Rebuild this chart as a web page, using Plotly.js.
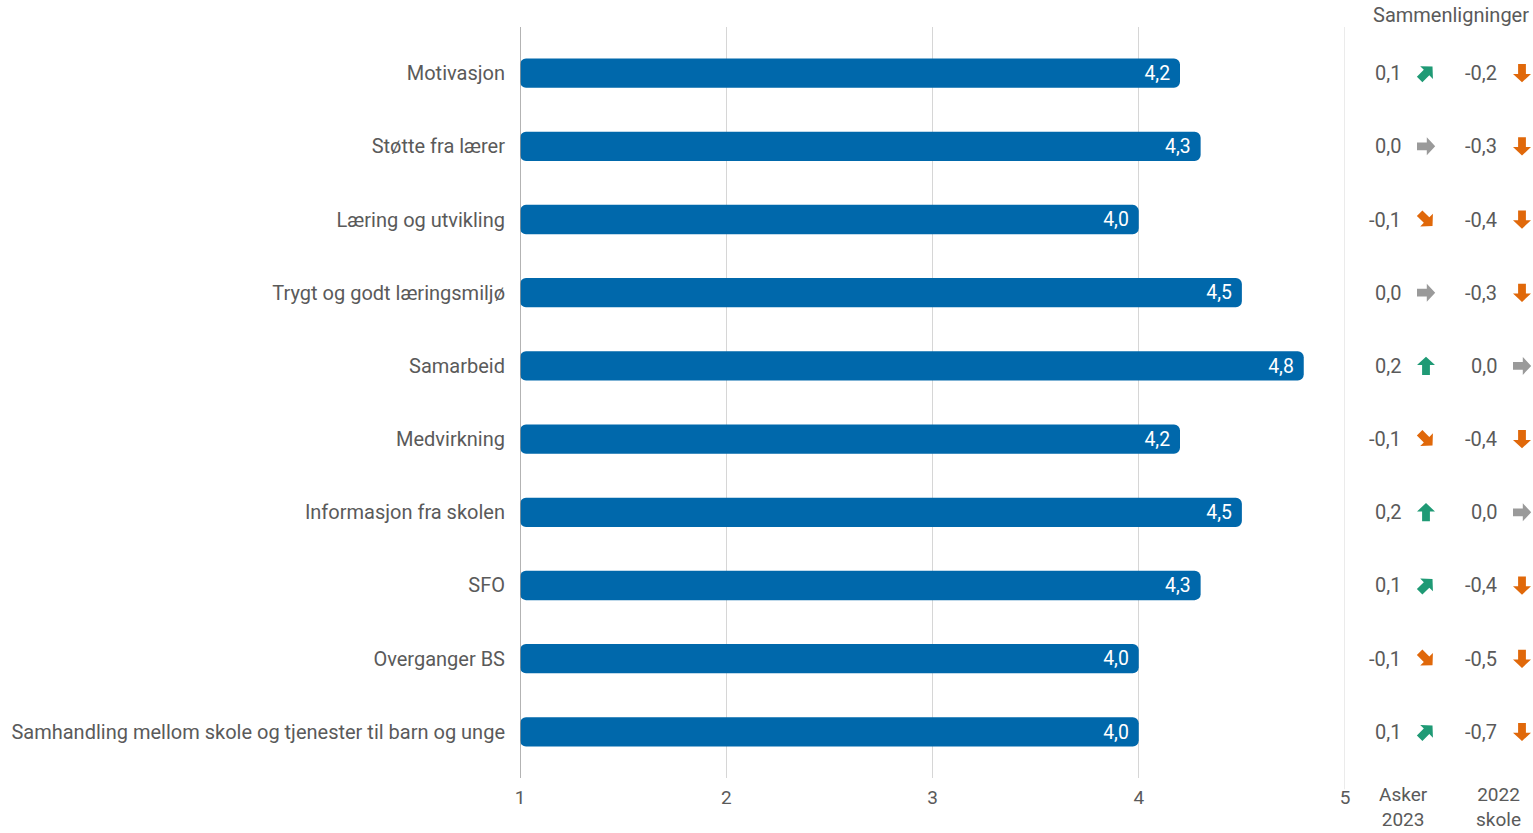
<!DOCTYPE html>
<html><head><meta charset="utf-8">
<script src="https://cdn.plot.ly/plotly-3.0.1.min.js"></script>
<style>html,body{margin:0;padding:0;background:#fff}#c{width:1533px;height:833px}</style>
</head><body><div id="c"></div>
<script>
const categories = ["Motivasjon","Støtte fra lærer","Læring og utvikling","Trygt og godt læringsmiljø","Samarbeid","Medvirkning","Informasjon fra skolen","SFO","Overganger BS","Samhandling mellom skole og tjenester til barn og unge"];
const scores = [4.2,4.3,4.0,4.5,4.8,4.2,4.5,4.3,4.0,4.0];
const vsAsker2023 = [0.1,0.0,-0.1,0.0,0.2,-0.1,0.2,0.1,-0.1,0.1];
const vsSkole2022 = [-0.2,-0.3,-0.4,-0.3,0.0,-0.4,0.0,-0.4,-0.5,-0.7];
const xTicks = [1,2,3,4,5];
const columnLabels = ["Asker<br>2023","2022<br>skole"];
const headerLabel = "Sammenligninger";

const FONT = "Roboto, 'Open Sans', sans-serif";
const FS = 20;
const TXT = '#5a5a5a';
const L = 520, R = 1345, W = R - L;
const px = p => (p - L) / W;
const fmt = v => v.toFixed(1).replace('.', ',');

const annotations = [];
const shapes = [];
// arrow path (pointing right), pixel offsets, y up positive
const ARROW = [[-9,-3.9],[0.8,-3.9],[0.8,-9],[9.2,0],[0.8,9],[0.8,3.9],[-9,3.9]];
function arrowFor(v) {
  const a = Math.round(Math.abs(v) * 10);
  if (a === 0) return {ang:0, c:'#9a9a9a'};
  if (v > 0) return a === 1 ? {ang:45, c:'#1f9a75'} : {ang:90, c:'#1f9a75'};
  return a === 1 ? {ang:-45, c:'#e0680a'} : {ang:-90, c:'#e0680a'};
}
function arrowPath(angDeg) {
  const t = angDeg * Math.PI / 180, c = Math.cos(t), s = Math.sin(t);
  return ARROW.map((p, i) => (i ? 'L' : 'M') + (p[0]*c - p[1]*s).toFixed(2) + ',' + (p[0]*s + p[1]*c).toFixed(2)).join(' ') + ' Z';
}
const cols = [
  {vals: vsAsker2023, textRight: 1403, arrowX: 1426},
  {vals: vsSkole2022, textRight: 1499, arrowX: 1522}
];
cols.forEach(col => {
  col.vals.forEach((v, i) => {
    annotations.push({xref:'paper', yref:'y', x: px(col.textRight), y: categories[i], xanchor:'right', yanchor:'middle',
      text: fmt(v), showarrow:false, font:{family:FONT, size:FS, color:TXT}});
    const a = arrowFor(v);
    shapes.push({type:'path', xref:'paper', yref:'y', xsizemode:'pixel', ysizemode:'pixel',
      xanchor: px(col.arrowX), yanchor: categories[i], path: arrowPath(a.ang),
      fillcolor:a.c, line:{width:0}, layer:'above'});
  });
});
annotations.push({xref:'paper', yref:'paper', x: px(1451), y: 1, yshift: 12, text: headerLabel, showarrow:false,
  xanchor:'center', yanchor:'middle', font:{family:FONT, size:FS, color:TXT}});
columnLabels.forEach((t, k) => {
  annotations.push({xref:'paper', yref:'paper', x: px([1403,1498][k]), y: 0, yshift: -29, text: t, showarrow:false,
    xanchor:'center', yanchor:'middle', font:{family:FONT, size:19, color:TXT}});
});

const trace = {
  type:'bar', orientation:'h', y: categories, x: scores.map(s => s - 1), base: 1,
  marker:{color:'#0068ab'}, width:0.4,
  text: scores.map(s => fmt(s) + '\u2009'), textposition:'inside', insidetextanchor:'end',
  textfont:{family:FONT, size:FS, color:'#fff'}, hoverinfo:'none', cliponaxis:false
};

shapes.push({type:'line', xref:'x', yref:'paper', x0:1, x1:1, y0:0, y1:1, line:{color:'#9a9a9a', width:1.5}});
shapes.push({type:'line', xref:'x', yref:'paper', x0:5, x1:5, y0:-0.015, y1:1, line:{color:'#d6d6d6', width:1}});

const layout = {
  width:1533, height:833, margin:{l:L, r:1533-R, t:27, b:55},
  paper_bgcolor:'#fff', plot_bgcolor:'#fff', showlegend:false,
  barcornerradius:6,
  font:{family:FONT, size:FS, color:TXT},
  xaxis:{range:[1,5], tickvals:xTicks, ticktext:xTicks.map(String), showgrid:true, gridcolor:'#d6d6d6', gridwidth:1,
    zeroline:false, showline:false, ticks:'', ticklabelstandoff:6, tickfont:{family:FONT, size:19, color:TXT}, fixedrange:true},
  yaxis:{categoryorder:'array', categoryarray:categories, autorange:false, range:[9.63,-0.63], showgrid:false, zeroline:false,
    showline:false, ticks:'', ticklabelstandoff:14, tickfont:{family:FONT, size:FS, color:TXT}, fixedrange:true},
  shapes: shapes,
  annotations: annotations
};
Plotly.newPlot('c', [trace], layout, {displayModeBar:false, staticPlot:true});
</script></body></html>
